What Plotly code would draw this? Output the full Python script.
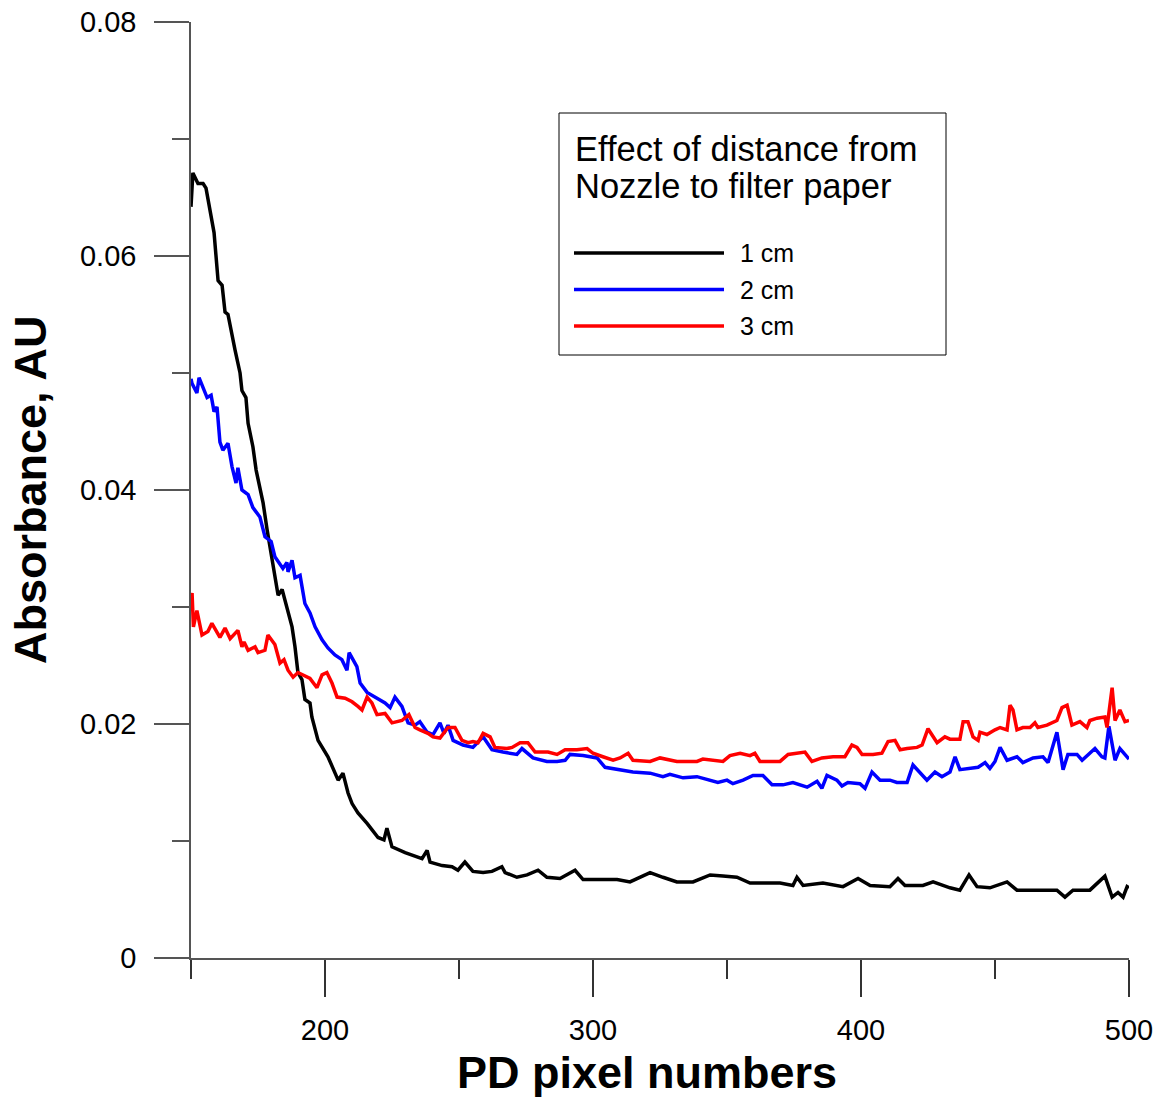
import plotly.graph_objects as go

# ---------------- data ----------------
x_1cm = [150.0, 150.7, 152.6, 154.5, 155.6, 156.7, 158.6, 160.1, 161.6, 162.7, 163.8, 166.4, 168.3, 169.0,
         170.5, 171.3, 173.1, 174.3, 175.7, 176.9, 178.4, 180.2, 182.5, 184.0, 186.2, 187.7, 188.8, 189.9,
         191.4, 192.5, 194.4, 195.1, 197.4, 201.1, 204.9, 206.7, 208.6, 210.1, 212.3, 215.7, 219.8, 222.0,
         223.1, 225.0, 229.9, 232.5, 236.2, 238.1, 239.2, 243.7, 247.4, 249.6, 252.2, 255.2, 259.0, 262.3,
         266.0, 267.2, 271.6, 275.4, 279.5, 282.8, 287.7, 293.3, 296.3, 302.6, 309.0, 313.8, 321.3, 326.1,
         331.3, 337.3, 343.7, 348.5, 353.7, 358.6, 364.9, 369.8, 374.6, 376.1, 378.4, 385.8, 393.3, 398.9,
         403.4, 410.8, 413.8, 416.4, 423.1, 426.9, 433.2, 436.9, 440.3, 443.3, 448.1, 454.5, 458.2, 465.7,
         473.1, 476.1, 479.1, 485.4, 491.0, 493.7, 495.9, 497.8, 499.3, 500.0]
y_1cm = [0.0642, 0.0671, 0.0662, 0.0662, 0.0658, 0.0645, 0.0620, 0.0579, 0.0575, 0.0552, 0.0550, 0.0520, 0.0500, 0.0485,
         0.0479, 0.0457, 0.0437, 0.0417, 0.0400, 0.0389, 0.0366, 0.0343, 0.0310, 0.0315, 0.0297, 0.0283, 0.0266, 0.0244,
         0.0238, 0.0221, 0.0218, 0.0206, 0.0186, 0.0172, 0.0152, 0.0158, 0.0141, 0.0132, 0.0124, 0.0115, 0.0103, 0.0101,
         0.0111, 0.0095, 0.0090, 0.0088, 0.0085, 0.0092, 0.0082, 0.0079, 0.0078, 0.0075, 0.0082, 0.0074, 0.0073, 0.0074,
         0.0078, 0.0073, 0.0069, 0.0071, 0.0075, 0.0069, 0.0068, 0.0075, 0.0067, 0.0067, 0.0067, 0.0065, 0.0073, 0.0069,
         0.0065, 0.0065, 0.0071, 0.0070, 0.0069, 0.0064, 0.0064, 0.0064, 0.0062, 0.0069, 0.0062, 0.0064, 0.0061, 0.0068,
         0.0062, 0.0061, 0.0068, 0.0062, 0.0062, 0.0065, 0.0060, 0.0058, 0.0071, 0.0061, 0.0060, 0.0065, 0.0058, 0.0058,
         0.0058, 0.0052, 0.0058, 0.0058, 0.0070, 0.0052, 0.0056, 0.0052, 0.0061, 0.0060]

x_2cm = [150.0, 150.4, 152.2, 153.0, 156.0, 157.5, 158.6, 159.7, 160.8, 161.9, 163.8, 165.3, 166.8, 167.5,
         169.0, 171.3, 173.1, 175.7, 177.6, 179.9, 181.3, 182.8, 184.3, 185.8, 186.2, 187.7, 188.8, 190.7,
         192.5, 194.4, 196.3, 198.9, 201.1, 203.7, 206.3, 208.2, 209.0, 211.9, 213.1, 215.7, 218.7, 222.4,
         224.3, 226.1, 228.7, 231.0, 233.6, 235.4, 238.1, 240.3, 242.9, 244.4, 245.9, 247.8, 251.5, 255.2,
         259.0, 262.3, 266.4, 271.6, 273.5, 277.6, 282.8, 286.6, 289.6, 291.4, 296.3, 301.5, 304.5, 309.0,
         314.9, 321.3, 326.1, 328.7, 333.6, 338.8, 343.7, 346.6, 350.0, 352.2, 356.0, 359.7, 363.4, 366.8,
         370.9, 374.6, 379.9, 383.6, 385.4, 387.3, 391.0, 392.9, 395.1, 399.6, 401.5, 404.1, 407.1, 410.8,
         413.4, 417.2, 419.4, 422.8, 424.6, 427.6, 430.2, 433.2, 435.1, 436.9, 440.7, 443.7, 446.3, 448.1,
         450.0, 451.9, 454.5, 458.2, 460.4, 464.2, 467.9, 469.8, 473.1, 475.4, 477.2, 480.6, 482.5, 484.7,
         487.3, 489.9, 491.0, 492.5, 494.8, 496.6, 499.6, 500.0]
y_2cm = [0.0495, 0.0491, 0.0483, 0.0496, 0.0479, 0.0481, 0.0467, 0.0471, 0.0441, 0.0434, 0.0440, 0.0420, 0.0406, 0.0419,
         0.0400, 0.0396, 0.0385, 0.0377, 0.0360, 0.0356, 0.0343, 0.0338, 0.0333, 0.0338, 0.0330, 0.0340, 0.0325, 0.0327,
         0.0303, 0.0295, 0.0283, 0.0272, 0.0265, 0.0259, 0.0255, 0.0246, 0.0261, 0.0249, 0.0235, 0.0227, 0.0223, 0.0218,
         0.0214, 0.0223, 0.0215, 0.0201, 0.0199, 0.0202, 0.0193, 0.0191, 0.0201, 0.0192, 0.0199, 0.0186, 0.0182, 0.0180,
         0.0189, 0.0178, 0.0176, 0.0174, 0.0179, 0.0171, 0.0168, 0.0168, 0.0169, 0.0174, 0.0173, 0.0171, 0.0163, 0.0161,
         0.0159, 0.0158, 0.0155, 0.0157, 0.0154, 0.0155, 0.0152, 0.0150, 0.0152, 0.0149, 0.0152, 0.0156, 0.0156, 0.0148,
         0.0148, 0.0150, 0.0146, 0.0151, 0.0145, 0.0156, 0.0152, 0.0147, 0.0150, 0.0149, 0.0145, 0.0159, 0.0152, 0.0152,
         0.0150, 0.0150, 0.0165, 0.0156, 0.0152, 0.0159, 0.0155, 0.0159, 0.0172, 0.0161, 0.0162, 0.0163, 0.0167, 0.0162,
         0.0168, 0.0180, 0.0169, 0.0172, 0.0167, 0.0171, 0.0172, 0.0167, 0.0193, 0.0161, 0.0174, 0.0174, 0.0169, 0.0174,
         0.0179, 0.0172, 0.0171, 0.0198, 0.0169, 0.0179, 0.0171, 0.0170]

x_3cm = [150.0, 150.4, 150.9, 152.2, 154.1, 156.3, 157.8, 160.8, 162.7, 164.6, 167.5, 169.0, 169.8, 171.3,
         173.9, 175.0, 177.6, 178.7, 181.3, 183.2, 184.7, 186.2, 188.1, 189.9, 194.4, 197.0, 198.9, 200.7,
         202.6, 204.5, 207.5, 210.1, 212.3, 213.8, 215.7, 217.5, 219.4, 222.4, 225.0, 228.7, 231.3, 233.6,
         235.4, 238.4, 240.3, 242.9, 245.9, 248.5, 251.1, 253.4, 255.2, 257.1, 259.0, 261.6, 263.4, 267.9,
         269.8, 272.8, 275.7, 278.4, 283.2, 286.6, 289.6, 294.0, 297.8, 300.0, 303.7, 307.5, 310.1, 313.1,
         314.9, 321.3, 325.0, 331.3, 338.8, 341.0, 348.5, 351.1, 354.9, 358.6, 360.4, 362.3, 366.0, 369.8,
         372.8, 376.5, 379.1, 381.7, 385.4, 389.6, 394.0, 396.6, 398.5, 400.4, 404.5, 407.8, 410.1, 412.7,
         414.6, 417.2, 420.9, 422.8, 425.0, 428.4, 431.3, 433.2, 436.9, 438.1, 439.9, 441.8, 443.7, 444.4,
         447.0, 450.0, 451.9, 454.5, 455.6, 456.7, 458.2, 460.4, 463.1, 464.9, 466.0, 469.4, 471.6, 473.1,
         475.0, 476.9, 478.7, 481.7, 484.3, 485.4, 488.1, 491.0, 491.8, 493.7, 494.8, 496.6, 498.5, 500.0]
y_3cm = [0.0300, 0.0312, 0.0283, 0.0297, 0.0276, 0.0279, 0.0286, 0.0274, 0.0282, 0.0273, 0.0280, 0.0266, 0.0270, 0.0263,
         0.0266, 0.0261, 0.0263, 0.0276, 0.0268, 0.0252, 0.0255, 0.0246, 0.0240, 0.0244, 0.0239, 0.0231, 0.0242, 0.0244,
         0.0235, 0.0223, 0.0222, 0.0219, 0.0215, 0.0212, 0.0223, 0.0218, 0.0208, 0.0209, 0.0201, 0.0203, 0.0208, 0.0197,
         0.0195, 0.0192, 0.0189, 0.0188, 0.0197, 0.0197, 0.0186, 0.0184, 0.0185, 0.0184, 0.0192, 0.0189, 0.0180, 0.0179,
         0.0180, 0.0184, 0.0184, 0.0176, 0.0176, 0.0174, 0.0178, 0.0178, 0.0179, 0.0175, 0.0172, 0.0169, 0.0171, 0.0175,
         0.0169, 0.0168, 0.0171, 0.0168, 0.0168, 0.0170, 0.0168, 0.0173, 0.0175, 0.0173, 0.0175, 0.0168, 0.0168, 0.0168,
         0.0174, 0.0175, 0.0176, 0.0168, 0.0171, 0.0172, 0.0172, 0.0182, 0.0180, 0.0174, 0.0174, 0.0175, 0.0185, 0.0186,
         0.0178, 0.0179, 0.0180, 0.0182, 0.0196, 0.0184, 0.0189, 0.0187, 0.0187, 0.0202, 0.0202, 0.0189, 0.0186, 0.0193,
         0.0191, 0.0195, 0.0197, 0.0195, 0.0216, 0.0212, 0.0195, 0.0197, 0.0197, 0.0201, 0.0197, 0.0199, 0.0201, 0.0203,
         0.0214, 0.0216, 0.0199, 0.0202, 0.0197, 0.0203, 0.0205, 0.0206, 0.0197, 0.0231, 0.0203, 0.0212, 0.0202, 0.0203]

series_names = ["1 cm", "2 cm", "3 cm"]
series_colors = ["#000000", "#0000ff", "#ff0000"]
legend_title_lines = ["Effect of distance from", "Nozzle to filter paper"]
x_title = "PD pixel numbers"
y_title = "Absorbance, AU"

FONT = "Arial, 'Liberation Sans', sans-serif"

fig = go.Figure()
for xs, ys, name, col in zip([x_1cm, x_2cm, x_3cm], [y_1cm, y_2cm, y_3cm], series_names, series_colors):
    fig.add_trace(go.Scatter(x=xs, y=ys, mode="lines", name=name,
                             line=dict(color=col, width=3.5), showlegend=False))

# plot area geometry in pixels
L, R, T, B = 191, 1129, 22, 958
W, H = R - L, B - T


def px(x):
    return (x - L) / W


def py(y):
    return (B - y) / H


shapes = []
annotations = []
# legend box
shapes.append(dict(type="rect", xref="paper", yref="paper", x0=px(559), x1=px(946), y0=py(355), y1=py(113),
                   line=dict(color="#000000", width=1), fillcolor="white", layer="above"))
for i, t in enumerate(legend_title_lines):
    annotations.append(dict(xref="paper", yref="paper", x=px(573), y=py(149 + 37 * i), text=t, showarrow=False,
                            xanchor="left", yanchor="middle", font=dict(family=FONT, size=34.5, color="#000")))
for i, (name, col) in enumerate(zip(series_names, series_colors)):
    yy = py(253 + 36.5 * i)
    shapes.append(dict(type="line", xref="paper", yref="paper", x0=px(574), x1=px(724), y0=yy, y1=yy,
                       line=dict(color=col, width=3.5), layer="above"))
    annotations.append(dict(xref="paper", yref="paper", x=px(738), y=yy, text=name, showarrow=False,
                            xanchor="left", yanchor="middle", font=dict(family=FONT, size=25, color="#000")))

# axis titles placed as in the reference
annotations.append(dict(xref="paper", yref="paper", x=px(647), y=py(1072), text="<b>%s</b>" % x_title,
                        showarrow=False, xanchor="center", yanchor="middle",
                        font=dict(family=FONT, size=45, color="#000")))
annotations.append(dict(xref="paper", yref="paper", x=px(30), y=py(490), text="<b>%s</b>" % y_title,
                        showarrow=False, xanchor="center", yanchor="middle", textangle=-90,
                        font=dict(family=FONT, size=45, color="#000")))

fig.update_layout(
    width=1164, height=1099,
    margin=dict(l=L, r=1164 - R, t=T, b=1099 - B, pad=0, autoexpand=False),
    paper_bgcolor="white", plot_bgcolor="white",
    font=dict(family=FONT, color="#000"),
    shapes=shapes, annotations=annotations,
    showlegend=False,
)
fig.update_xaxes(
    range=[150, 500], showgrid=False, zeroline=False, automargin=False,
    showline=True, linecolor="#555", linewidth=1.5,
    ticks="outside", ticklen=37, tickwidth=1.5, tickcolor="#333",
    tick0=0, dtick=100, tickfont=dict(size=29, family=FONT, color="#000"),
    ticklabelstandoff=8,
    minor=dict(ticks="outside", ticklen=19, tickwidth=1.5, tickcolor="#333", tick0=0, dtick=50, showgrid=False),
)
fig.update_yaxes(
    range=[0, 0.08], showgrid=False, zeroline=False, automargin=False,
    showline=True, linecolor="#555", linewidth=1.5,
    ticks="outside", ticklen=35, tickwidth=1.5, tickcolor="#555",
    tick0=0, dtick=0.02, tickfont=dict(size=29, family=FONT, color="#000"),
    ticklabelstandoff=12,
    minor=dict(ticks="outside", ticklen=17, tickwidth=1.5, tickcolor="#555", tick0=0, dtick=0.01, showgrid=False),
)

fig.write_html("out.html")
